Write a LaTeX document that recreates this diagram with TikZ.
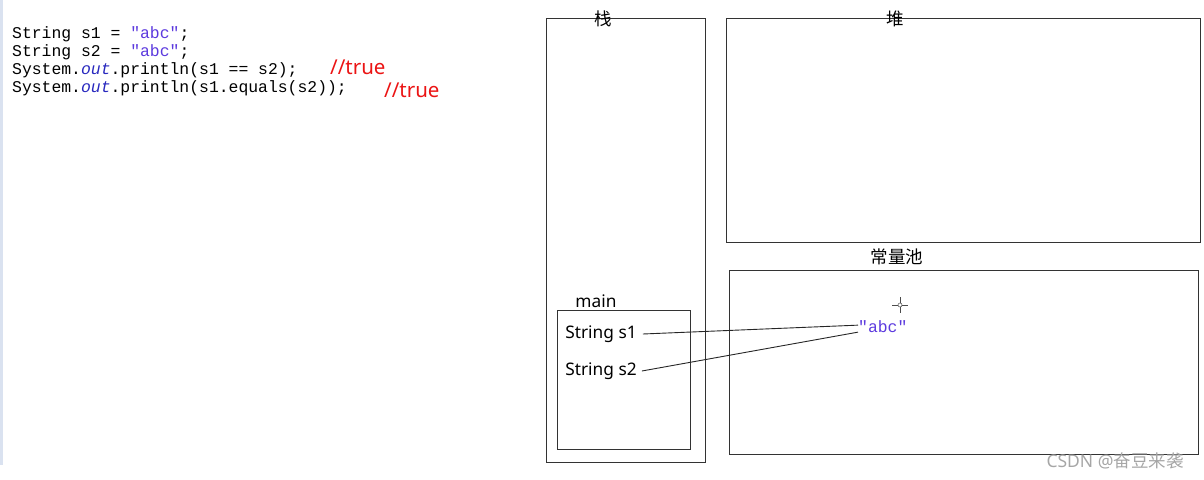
\documentclass[tikz,border=0pt]{standalone}
\usepackage{fontspec}
\setmainfont{Noto Sans}
\setmonofont{Liberation Mono}
\newfontfamily\cjk{Noto Sans CJK SC}
\usepackage{tikz}
\usetikzlibrary{positioning, calc}
\usepackage{xcolor}
\definecolor{strcol}{RGB}{92,58,222}
\definecolor{fieldcol}{RGB}{40,40,190}
\definecolor{cmtcol}{RGB}{235,20,20}
\definecolor{edgebar}{RGB}{218,226,240}

\begin{document}
\begin{tikzpicture}[
  x=1pt, y=-1pt,
  area/.style={
    draw=black!80, line width=0.9pt, inner sep=0pt,
    anchor=north west
  },
  code/.style={anchor=base west, inner sep=0pt,
    font=\ttfamily\fontsize{16.4}{18}\selectfont},
  cmt/.style={anchor=base west, inner sep=0pt, text=cmtcol,
    font=\fontsize{20.5}{22}\selectfont},
  title/.style={inner sep=0pt, font=\cjk\fontsize{17.5}{19}\selectfont},
  var/.style={inner sep=0pt, font=\fontsize{17.3}{19}\selectfont},
  link/.style={draw=black!85, line width=0.9pt}
]
  \useasboundingbox (0,0) rectangle (1204,479);
  \fill[edgebar] (0,0) rectangle (3,465);

  % source code
  \node[code] (line1) at (12,38)   {String s1 = \textcolor{strcol}{"abc"};};
  \node[code] (line2) at (12,56.3) {String s2 = \textcolor{strcol}{"abc"};};
  \node[code] (line3) at (12,74.6) {System.\textcolor{fieldcol}{\itshape out}.println(s1 == s2);};
  \node[code] (line4) at (12,92.9) {System.\textcolor{fieldcol}{\itshape out}.println(s1.equals(s2));};
  \node[cmt] (res1) at (330,74) {//true};
  \node[cmt] (res2) at (384,97) {//true};

  % memory areas
  \node[area, minimum width=159pt, minimum height=444pt] (stack) at (546,18) {};
  \node[area, minimum width=474pt, minimum height=224pt] (heap)  at (726,18) {};
  \node[area, minimum width=469pt, minimum height=184pt] (pool)  at (729,270) {};
  \node[area, minimum width=133pt, minimum height=139pt] (frame) at (557,310) {};

  \node[title] at (603,19)  {栈};
  \node[title] at (895,19)  {堆};
  \node[title] at (897,257) {常量池};
  \node[var]   (mainlbl) at (596,301) {main};

  % variables and the shared literal
  \node[var] (s1) at (601,334) {String s1};
  \node[var] (s2) at (601,371) {String s2};
  \node[code, anchor=base west] (abc) at (858,332) {\textcolor{strcol}{"abc"}};

  \draw[link] ([xshift=6pt]s1.east) -- ([yshift=1pt]abc.west);
  \draw[link] ([xshift=5pt]s2.east) -- ([yshift=-6pt]abc.west);

  % cursor mark
  \coordinate (cur) at (900,305);
  \draw[black!70, line width=0.6pt] ($(cur)+(-8,0)$) -- ($(cur)+(8,0)$)
    ($(cur)+(0,-8)$) -- ($(cur)+(0,8)$);
  \draw[black!70, fill=white, line width=0.5pt] (cur) circle (2);

  \node[inner sep=0pt, text=black!35, font=\fontsize{17.5}{19}\selectfont]
    (mark) at (1115,461) {CSDN @{\cjk 奋豆来袭}};
\end{tikzpicture}
\end{document}
